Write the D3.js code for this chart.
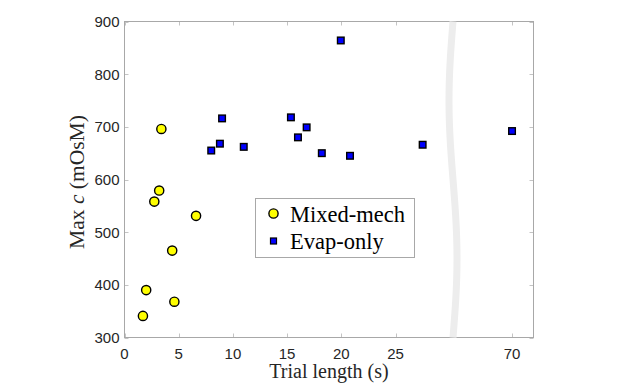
<!DOCTYPE html>
<meta charset="utf-8" />
<script src="https://d3js.org/d3.v7.min.js"></script>
<style>
  body { margin: 0; background: #fff; }
</style>
<body>
<div id="chart"></div>
<script>
// data
var mixedX = [1.7, 2.0, 2.75, 3.2, 3.4, 4.4, 4.6, 6.6];
var mixedY = [341, 390, 558, 579, 696, 465, 368, 531];
var evapX = [8.0, 8.8, 9.0, 11.0, 15.35, 16.0, 16.8, 18.2, 19.95, 20.8, 27.5, 70];
var evapY = [655, 668, 716, 662, 718, 680, 699, 650, 864, 645, 666, 692];
var xTicks = [0, 5, 10, 15, 20, 25, 70];
var yTicks = [300, 400, 500, 600, 700, 800, 900];
var seriesNames = ["Mixed-mech", "Evap-only"];

var width = 630, height = 388;
// plot box edges (note: "top" is reserved on window, so use other names)
var xLeft = 124.5, xRight = 533.5, yTop = 21.5, yBottom = 337.5;
var breakX = 453; // where the axis jumps from ~30 to ~64

var svg = d3.select("#chart").append("svg")
  .attr("width", width)
  .attr("height", height)
  .style("font-family", "Liberation Sans, Arial, sans-serif");

svg.append("rect").attr("width", width).attr("height", height).attr("fill", "#fff");

// broken x axis: piecewise linear scale
var x = d3.scaleLinear()
  .domain([0, 30.3, 64.5, 72])
  .range([xLeft, breakX, breakX, xRight]);
var y = d3.scaleLinear().domain([300, 900]).range([yBottom, yTop]);

var tickLen = 4, axisCol = "#a8a8a8", tickCol = "#c4c4c4";

// ticks (inward, on all four sides)
var tg = svg.append("g").attr("stroke", tickCol).attr("stroke-width", 1);
xTicks.forEach(function (t) {
  var px = Math.round(x(t)) + 0.5;
  tg.append("line").attr("x1", px).attr("x2", px).attr("y1", yBottom).attr("y2", yBottom - tickLen);
  tg.append("line").attr("x1", px).attr("x2", px).attr("y1", yTop).attr("y2", yTop + tickLen);
});
yTicks.forEach(function (t) {
  var py = Math.round(y(t)) + 0.5;
  tg.append("line").attr("x1", xLeft).attr("x2", xLeft + tickLen).attr("y1", py).attr("y2", py);
  tg.append("line").attr("x1", xRight).attr("x2", xRight - tickLen).attr("y1", py).attr("y2", py);
});

// axes box
svg.append("rect")
  .attr("x", xLeft).attr("y", yTop)
  .attr("width", xRight - xLeft).attr("height", yBottom - yTop)
  .attr("fill", "none").attr("stroke", axisCol).attr("stroke-width", 1);

// tick labels
svg.append("g").selectAll("text").data(xTicks).enter().append("text")
  .attr("x", function (d) { return x(d); })
  .attr("y", 359)
  .attr("text-anchor", "middle")
  .attr("font-size", 15)
  .attr("fill", "#262626")
  .text(function (d) { return d; });

svg.append("g").selectAll("text").data(yTicks).enter().append("text")
  .attr("x", 119.5)
  .attr("y", function (d) { return y(d) + 5.5; })
  .attr("text-anchor", "end")
  .attr("font-size", 15)
  .attr("fill", "#262626")
  .text(function (d) { return d; });

// axis labels (serif, like the LaTeX interpreter)
svg.append("text")
  .attr("x", (xLeft + xRight) / 2)
  .attr("y", 377.5)
  .attr("text-anchor", "middle")
  .attr("font-family", "Liberation Serif, Times New Roman, serif")
  .attr("font-size", 20)
  .attr("fill", "#262626")
  .text("Trial length (s)");

var yl = svg.append("text")
  .attr("transform", "translate(84,182) rotate(-90)")
  .attr("text-anchor", "middle")
  .attr("font-family", "Liberation Serif, Times New Roman, serif")
  .attr("font-size", 21.5)
  .attr("fill", "#262626");
yl.append("tspan").text("Max ");
yl.append("tspan").attr("font-style", "italic").text("c");
yl.append("tspan").text(" (mOsM)");

// break marker: a light wavy band over the axes
var wave = d3.range(0, 1.001, 0.02).map(function (t) {
  return [breakX - 4 * Math.sin(2 * Math.PI * t), yTop + t * (yBottom - yTop)];
});
svg.append("path")
  .attr("d", d3.line().curve(d3.curveBasis)(wave))
  .attr("fill", "none")
  .attr("stroke", "#ededed")
  .attr("stroke-width", 7);

// markers
var pts = svg.append("g");
pts.selectAll("circle").data(mixedX).enter().append("circle")
  .attr("cx", function (d) { return x(d); })
  .attr("cy", function (d, i) { return y(mixedY[i]); })
  .attr("r", 4.6)
  .attr("fill", "#ffff00")
  .attr("stroke", "#000")
  .attr("stroke-width", 1.4);

var sq = 6.6;
pts.selectAll("rect").data(evapX).enter().append("rect")
  .attr("x", function (d) { return x(d) - sq / 2; })
  .attr("y", function (d, i) { return y(evapY[i]) - sq / 2; })
  .attr("width", sq).attr("height", sq)
  .attr("fill", "#0000ff")
  .attr("stroke", "#000")
  .attr("stroke-width", 1.4);

// legend
var lg = svg.append("g");
lg.append("rect")
  .attr("x", 255.5).attr("y", 198.5)
  .attr("width", 159).attr("height", 59)
  .attr("fill", "#fff")
  .attr("stroke", axisCol);
lg.append("circle")
  .attr("cx", 273.5).attr("cy", 213.5).attr("r", 4.6)
  .attr("fill", "#ffff00").attr("stroke", "#000").attr("stroke-width", 1.4);
lg.append("rect")
  .attr("x", 273.5 - 3).attr("y", 241 - 3).attr("width", 6).attr("height", 6)
  .attr("fill", "#0000ff").attr("stroke", "#000").attr("stroke-width", 1.2);
lg.selectAll("text").data(seriesNames).enter().append("text")
  .attr("x", 290)
  .attr("y", function (d, i) { return 221.5 + i * 27.8; })
  .attr("font-family", "Liberation Serif, Times New Roman, serif")
  .attr("font-size", 22.5)
  .attr("fill", "#000")
  .text(function (d) { return d; });
</script>
</body>
